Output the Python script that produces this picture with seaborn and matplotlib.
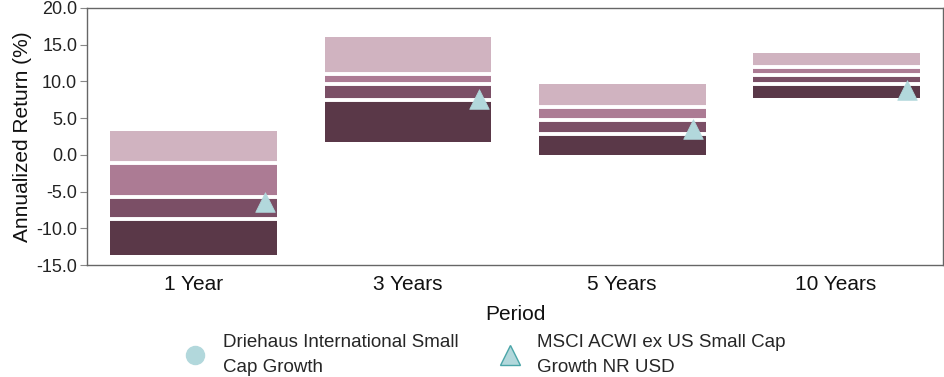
import matplotlib
matplotlib.use('Agg')
import matplotlib.pyplot as plt
from matplotlib.lines import Line2D
import numpy as np
import pandas as pd
import seaborn as sns

# Peer group percentile breakpoints (top, 25th, median, 75th, bottom)
periods = ["1 Year", "3 Years", "5 Years", "10 Years"]
p05 = [3.3, 16.1, 9.6, 13.9]
p25 = [-1.05, 11.0, 6.5, 11.9]
p50 = [-5.75, 9.6, 4.7, 10.9]
p75 = [-8.75, 7.5, 2.8, 9.7]
p95 = [-13.6, 1.7, 0.0, 7.7]
benchmark = [-6.4, 7.6, 3.45, 8.8]

fund_name = "Driehaus International Small\nCap Growth"
bench_name = "MSCI ACWI ex US Small Cap\nGrowth NR USD"

band_colors = ["#D0B3C0", "#AC7B94", "#7B4F66", "#5A3848"]
marker_color = "#B2D8DC"

sns.set_theme(style="white")
plt.rcParams['font.family'] = ['Liberation Sans', 'DejaVu Sans']

fig = plt.figure(figsize=(9.45, 3.77), dpi=100)
ax = fig.add_axes([0.092, 0.297, 0.906, 0.682])

x = np.arange(len(periods))
bw = 0.78
edges = [p05, p25, p50, p75, p95]
for i, col in enumerate(band_colors):
    top = np.array(edges[i])
    bot = np.array(edges[i + 1])
    ax.bar(x, top - bot, bottom=bot, width=bw, color=col, linewidth=0, zorder=2)

# white separators between quartile bands
for lvl in [p25, p50, p75]:
    ax.hlines(lvl, x - bw / 2, x + bw / 2, colors="white", linewidth=2.8, zorder=3)

df = pd.DataFrame({"x": x + 0.33, "y": benchmark})
sns.scatterplot(data=df, x="x", y="y", marker="^", s=200, color=marker_color,
                edgecolor=marker_color, linewidth=0.5, ax=ax, zorder=4, legend=False)

ax.set_xlim(-0.5, len(periods) - 0.5)
ax.set_ylim(-15, 20)
yt = np.arange(-15, 20.1, 5)
ax.set_yticks(yt)
ax.set_yticklabels([f"{v:.1f}" for v in yt], fontsize=13, color="#222222")
ax.set_xticks(x)
ax.set_xticklabels(periods, fontsize=15, color="#111111")
ax.tick_params(axis="y", which="both", left=True, length=5, width=0.8, color="#888888", pad=2)
ax.tick_params(axis="x", bottom=False, pad=1)
ax.set_ylabel("Annualized Return (%)", fontsize=15, color="#111111", labelpad=3)
ax.set_xlabel("Period", fontsize=15, color="#111111", labelpad=8)
for sp in ax.spines.values():
    sp.set_color("#666666")
    sp.set_linewidth(1.0)

handles = [
    Line2D([], [], marker="o", linestyle="none", markersize=13, color=marker_color,
           markeredgecolor=marker_color),
    Line2D([], [], marker="^", linestyle="none", markersize=14, color=marker_color,
           markeredgecolor="#4AA5A8", markeredgewidth=1.0),
]
leg = fig.legend(handles, [fund_name, bench_name], ncol=2, loc="lower left",
                 bbox_to_anchor=(0.171, -0.036), frameon=True, fontsize=13.5,
                 handletextpad=0.45, columnspacing=1.75, borderpad=0.3,
                 labelspacing=0.3)
for t in leg.get_texts():
    t.set_linespacing(1.6)
leg.get_frame().set_facecolor("white")
leg.get_frame().set_edgecolor("white")
leg.get_frame().set_alpha(1.0)

fig.savefig("out.png", dpi=100)
